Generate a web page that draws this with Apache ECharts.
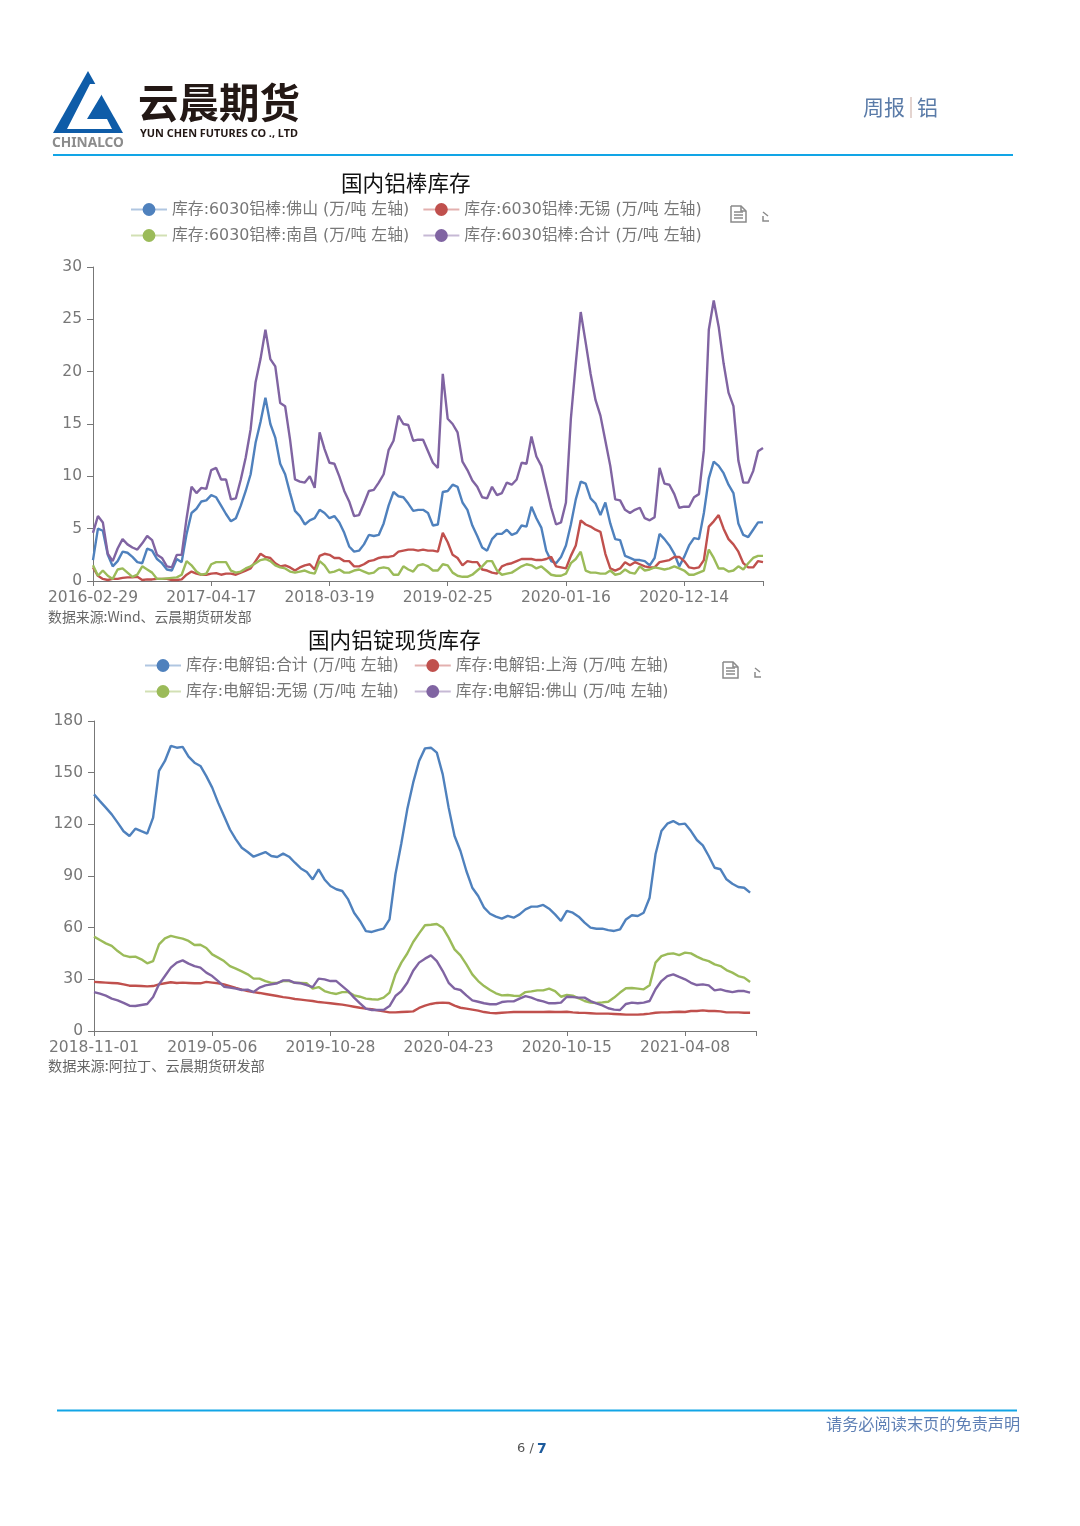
<!DOCTYPE html>
<html><head><meta charset="utf-8">
<style>html,body{margin:0;padding:0;background:#fff}#c{width:1080px;height:1526px}</style>
<script src="https://cdn.jsdelivr.net/npm/echarts@6/dist/echarts.min.js"></script>
</head><body><div id="c"></div>
<script>
const ticksA = ['2016-02-29','2017-04-17','2018-03-19','2019-02-25','2020-01-16','2020-12-14'];
const ticksB = ['2018-11-01','2019-05-06','2019-10-28','2020-04-23','2020-10-15','2021-04-08'];
const namesA = ['库存:6030铝棒:佛山 (万/吨 左轴)','库存:6030铝棒:无锡 (万/吨 左轴)','库存:6030铝棒:南昌 (万/吨 左轴)','库存:6030铝棒:合计 (万/吨 左轴)'];
const namesB = ['库存:电解铝:合计 (万/吨 左轴)','库存:电解铝:上海 (万/吨 左轴)','库存:电解铝:无锡 (万/吨 左轴)','库存:电解铝:佛山 (万/吨 左轴)'];

const foshanA = [2.0,5.0,4.8,2.5,1.4,1.9,2.8,2.7,2.3,1.8,
1.7,3.1,2.9,2.1,1.7,1.1,1.0,2.1,1.8,4.5,
6.5,6.9,7.6,7.7,8.2,8.0,7.2,6.4,5.7,6.0,
7.2,8.6,10.2,13.2,15.2,17.5,15.0,13.7,11.2,10.2,
8.4,6.7,6.2,5.4,5.8,6.0,6.8,6.5,6.0,6.2,
5.6,4.6,3.3,2.8,2.9,3.5,4.4,4.3,4.4,5.5,
7.2,8.5,8.1,8.0,7.4,6.7,6.8,6.8,6.5,5.3,
5.4,8.5,8.6,9.2,9.0,7.5,6.8,5.3,4.3,3.2,
2.9,4.0,4.5,4.5,4.9,4.4,4.6,5.3,5.2,7.1,
6.0,5.1,2.9,1.9,1.7,2.3,3.4,5.4,7.8,9.5,
9.3,7.9,7.4,6.3,7.5,5.5,4.0,3.9,2.4,2.2,
2.0,2.0,1.9,1.5,2.2,4.5,4.0,3.4,2.6,1.4,
2.3,3.4,4.1,4.0,6.5,9.8,11.4,11.0,10.3,9.2,
8.4,5.5,4.4,4.2,4.9,5.6,5.6];
const wuxiA = [1.3,.5,.2,.1,.2,.2,.3,.35,.35,.4,
.1,.15,.15,.2,.2,.2,.1,.1,.15,.6,
.9,.7,.6,.6,.7,.75,.6,.7,.7,.6,
.8,1,1.2,1.9,2.6,2.3,2.2,1.7,1.4,1.5,
1.3,1,1.3,1.5,1.6,1.1,2.4,2.6,2.5,2.2,
2.2,1.9,1.9,1.4,1.4,1.6,1.9,2,2.2,2.3,
2.3,2.4,2.8,2.9,3,3,2.9,3.0,2.9,2.9,
2.8,4.6,3.7,2.5,2.2,1.5,1.9,1.8,1.8,1.1,
1,.8,.7,1.4,1.6,1.7,1.9,2.1,2.1,2.1,
2,2,2.1,2.3,1.4,1.3,1.2,2.4,3.4,5.8,
5.4,5.2,4.9,4.7,2.6,1.2,1,1.2,1.8,1.5,
1.8,1.6,1.4,1.3,1.3,1.8,1.9,2,2.3,2.3,
1.9,1.3,1.2,1.3,2,5.2,5.7,6.3,5,4,
3.5,2.8,1.7,1.3,1.3,1.9,1.8];
const nanchangA = [1.5,.5,1,.5,.2,1.1,1.2,.8,.4,.6,
1.4,1.1,.8,.2,.2,.25,.3,.35,.6,1.9,
1.5,.9,.6,.7,1.6,1.8,1.8,1.8,1,.8,
.9,1.2,1.4,1.7,2,2.1,1.9,1.5,1.3,1.2,
.9,.8,.9,1,.8,.7,1.9,1.5,.8,.9,
1.1,.8,.8,1,1.1,.9,.7,.8,1.2,1.3,
1.2,.6,.6,1.4,1.1,.9,1.5,1.6,1.4,1.0,
1,1.6,1.5,.8,.5,.4,.4,.6,1,1.4,
1.9,1.9,1,.6,.7,.8,1.1,1.4,1.6,1.5,
1.2,1.4,1,.6,.5,.5,.7,1.7,2.1,2.8,
1,.8,.8,.7,.7,1,.6,.7,1.1,.8,
.7,1.4,1,1.1,1.3,1.2,1.1,1.2,1.4,1.2,
1,.6,.6,.8,1,3,2.2,1.2,1.2,.9,
1,1.4,1.1,1.7,2.2,2.4,2.4];
const totalA = [4.6,6.2,5.6,2.6,1.9,3.1,4,3.5,3.2,3,
3.6,4.3,3.9,2.5,2.2,1.4,1.3,2.5,2.5,6,
9,8.4,8.9,8.8,10.6,10.8,9.7,9.7,7.8,7.9,
9.7,11.8,14.5,19,21.2,24,21.2,20.5,17,16.7,
13.5,9.7,9.5,9.4,10,8.9,14.2,12.6,11.3,11.2,
10,8.6,7.6,6.2,6.3,7.4,8.6,8.7,9.4,10.2,
12.5,13.4,15.8,15,14.9,13.4,13.5,13.5,12.4,11.3,
10.8,19.8,15.5,15,14.2,11.4,10.6,9.6,9,8,
7.9,9,8.2,8.4,9.4,9.2,9.7,11.3,11.2,13.8,
11.9,11,9,7,5.4,5.6,7.5,15.5,20.8,25.7,
22.8,19.8,17.3,15.8,13.4,11,7.8,7.7,6.8,6.5,
6.8,7,6,5.8,6.1,10.8,9.3,9.2,8.3,7,
7.1,7.1,8,8.3,12.5,24,26.8,24.3,20.8,18,
16.7,11.5,9.4,9.4,10.5,12.4,12.7];

const totalB = [137.4,133.5,129.7,125.8,121,116,113.2,117.5,116,114.6,
123.9,151,156.8,165.5,164.5,165,159.3,155.8,153.9,148,
141.3,132.6,124.8,117,111.3,106.4,103.9,101.2,102.6,103.9,
101.6,101,103,101.2,97.7,94.4,92.3,88,93.9,88,
84.2,82.3,81.3,76.4,68.7,63.9,58,57.5,58.6,59.4,
64.8,91,109,128.7,144.2,156.8,164.1,164.5,161.6,149,
129.7,113.2,104.5,92.9,83.2,78.4,71.6,68.1,66.4,65.2,
66.8,65.8,67.7,70.6,72.2,72.2,73.2,71,67.7,63.9,
69.7,68.7,66.4,62.9,60,59.4,59.4,58.6,58.1,59,
64.8,67.2,66.8,68.7,77.4,102.6,116.1,120.4,121.9,120,
120.4,116.1,110.9,107.8,101.6,94.8,93.9,88.1,85.5,83.6,
83.2,80.3];
const shanghaiB = [28.5,28.3,28.1,27.9,27.7,27.1,26.3,26.3,26.1,25.9,
26.1,27.1,27.7,28.3,27.9,28.1,27.9,27.7,27.7,28.5,
28.1,27.7,27.1,26.1,25,24,23.2,22.6,22.1,21.5,
20.9,20.3,19.7,19.2,18.6,18.2,17.8,17.4,16.8,16.5,
16.1,15.7,15.3,14.7,14.1,13.5,13,12.6,12,11.4,
10.8,10.8,11,11.2,11.4,13.4,14.7,15.7,16.3,16.5,
16.3,14.7,13.5,13,12.4,11.8,11,10.5,10.3,10.6,
10.8,11,11,11,11,11,11,11.2,11,11,
11.2,10.8,10.6,10.5,10.3,10.1,10.1,10.1,9.9,9.7,
9.5,9.5,9.5,9.7,10.1,10.6,10.8,10.8,11,11.2,
11,11.6,11.6,12,11.6,11.6,11.4,10.8,10.8,10.8,
10.6,10.6];
const wuxiB = [54.8,52.8,50.9,49.4,46.4,43.9,43,43.2,41.6,39.3,
40.6,50.3,53.8,55.2,54.4,53.6,52.3,49.9,50.1,48.2,
44.5,42.6,40.6,37.7,36.2,34.6,32.9,30.4,30.4,29,
27.9,27.9,29,29,28,27.9,27.7,24.6,25.5,23.2,
22.1,21.5,22.6,22.6,20.7,19.9,18.8,18.4,18.2,19.4,
22.3,32.9,39.7,45,51.7,56.7,61.4,61.7,62.1,60,
54.2,47.4,43.9,38.7,32.9,29,26.1,23.8,21.9,20.7,
20.9,20.5,20.3,22.6,23,23.6,23.6,24.6,23.2,19.9,
20.9,20.5,19,17.4,16.5,16.3,16.6,17,19.4,22.3,
24.8,25,24.6,24.2,26.5,39.7,43.5,44.7,45.1,44.1,
45.5,45.1,43.2,41.6,40.6,38.7,37.7,35.4,33.9,31.9,
31,28.5];
const foshanB = [22.6,21.7,20.5,18.8,17.8,16.3,14.7,14.5,15.1,15.7,
19.7,27.1,31.9,36.8,39.7,41,39.1,37.7,36.8,33.9,
31.9,29,25.7,25.2,24.6,23.8,24,22.6,25.2,26.5,
27.1,27.7,29.4,29.4,28,27.7,26.7,25.5,30.4,30,
29,29,26.1,23.2,19.4,16.1,13,12.2,12.2,12.2,
14.5,20.3,23.2,28,35,39.7,42,43.9,40.6,34.8,
28,24.6,23.8,20.7,17.8,17,16.1,15.5,15.5,16.8,
17.2,17.2,18.8,20.3,19.4,18,17.2,16.1,16.1,16.5,
19.9,19.7,19.4,19.4,17.4,16.1,14.9,13.2,12.4,12.2,
15.7,16.5,16.1,16.5,17.4,24.2,29,31.9,32.9,31.4,
30,28,26.7,27.1,26.5,23.6,24.2,23.2,22.6,23.2,
23.2,22.3];

const colors = ['#4f81bd','#c0504d','#9bbb59','#8064a2'];
const gapA = 24, countA = 137, gapB = 20, countB = 113;
const catA = Array.from({length:countA},(_,i)=> i%gapA===0 ? ticksA[i/gapA] : '');
const catB = Array.from({length:countB},(_,i)=> i%gapB===0 ? ticksB[i/gapB] : '');
const axisCol = '#777', labelCol = '#777';
const labelFont = 'DejaVu Sans', cjk = 'Noto Sans CJK SC';
const legendFont = '"DejaVu Sans","Noto Sans CJK SC"';

function xAx(idx,cat,gap){
  const last = cat.length-1;
  return {type:'category',gridIndex:idx,data:cat,boundaryGap:false,
    axisLine:{onZero:false,lineStyle:{color:axisCol,width:1}},
    axisTick:{show:true,length:5,lineStyle:{color:axisCol},interval:(i)=>i%gap===0||i===last},
    axisLabel:{color:labelCol,fontFamily:labelFont,fontSize:15.5,margin:9,hideOverlap:false,interval:(i)=>i%gap===0},
    splitLine:{show:false}};
}
function yAx(idx,max,step){
  return {type:'value',gridIndex:idx,min:0,max:max,interval:step,
    axisLine:{show:true,lineStyle:{color:axisCol,width:1}},
    axisTick:{show:true,length:6,lineStyle:{color:axisCol}},
    axisLabel:{color:labelCol,fontFamily:labelFont,fontSize:15.5,margin:11},
    splitLine:{show:false}};
}
function ser(name,data,idx,col,w){
  return {type:'line',name:name,data:data,xAxisIndex:idx,yAxisIndex:idx,symbol:'circle',showSymbol:false,
    smooth:false,color:col,lineStyle:{color:col,width:w},itemStyle:{color:col},silent:true};
}
function leg(names,left,top,width,gap,size,tail){
  return {show:true,data:names,left:left,top:top,width:width,orient:'horizontal',padding:0,
    itemWidth:36,itemHeight:16,itemGap:gap,
    formatter:(n)=>n+tail,
    lineStyle:{width:2,opacity:.45},selectedMode:false,
    textStyle:{color:'#777',fontFamily:legendFont,fontSize:size,lineHeight:16}};
}
function txt(x,y,t,size,col,extra){
  return {type:'text',x:x,y:y,silent:true,style:Object.assign({text:t,fontFamily:cjk,fontSize:size,fill:col,textVerticalAlign:'middle',verticalAlign:'middle'},extra||{})};
}
function line(x1,x2,y){
  return {type:'line',silent:true,shape:{x1:x1,y1:y,x2:x2,y2:y},style:{stroke:'#12a5e6',lineWidth:2}};
}
function icons(dx,dy){
  const s = {fill:'none',stroke:'#8a8a8a',lineWidth:1.5};
  return [
    {type:'polyline',silent:true,x:dx,y:dy,shape:{points:[[731,206],[741,206],[746,211],[746,222],[731,222],[731,206]]},style:s},
    {type:'polyline',silent:true,x:dx,y:dy,shape:{points:[[741,206],[741,211],[746,211]]},style:s},
    {type:'line',silent:true,x:dx,y:dy,shape:{x1:734,y1:212,x2:743,y2:212},style:s},
    {type:'line',silent:true,x:dx,y:dy,shape:{x1:734,y1:215,x2:743,y2:215},style:s},
    {type:'line',silent:true,x:dx,y:dy,shape:{x1:734,y1:218,x2:743,y2:218},style:s},
    {type:'polyline',silent:true,x:dx,y:dy,shape:{points:[[763,212],[768,216]]},style:s},
    {type:'polyline',silent:true,x:dx,y:dy,shape:{points:[[763,216],[763,221],[769,221]]},style:s}
  ];
}
const chart = echarts.init(document.getElementById('c'),null,{renderer:'canvas'});
chart.setOption({
  animation:false,backgroundColor:'#fff',
  title:[
    {text:'国内铝棒库存',left:341,top:172,padding:0,textStyle:{fontFamily:cjk,fontWeight:'normal',fontSize:21.6,color:'#111'}},
    {text:'国内铝锭现货库存',left:308,top:629,padding:0,textStyle:{fontFamily:cjk,fontWeight:'normal',fontSize:21.6,color:'#111'}}
  ],
  legend:[leg(namesA,130,201.5,620,10,15.85,'\u2009'),leg(namesB,144,657.5,570,10,15.85,'\u00a0')],
  grid:[
    {left:93,top:267,width:670,height:314,containLabel:false},
    {left:94,top:721,width:662,height:310,containLabel:false}
  ],
  xAxis:[xAx(0,catA,gapA),xAx(1,catB,gapB)],
  yAxis:[yAx(0,30,5),yAx(1,180,30)],
  series:[
    ser(namesA[0],foshanA,0,colors[0],2.4),
    ser(namesA[1],wuxiA,0,colors[1],2.4),
    ser(namesA[2],nanchangA,0,colors[2],2.4),
    ser(namesA[3],totalA,0,colors[3],2.4),
    ser(namesB[0],totalB,1,colors[0],2.4),
    ser(namesB[1],shanghaiB,1,colors[1],2.4),
    ser(namesB[2],wuxiB,1,colors[2],2.4),
    ser(namesB[3],foshanB,1,colors[3],2.4)
  ],
  graphic:{elements:[
    {type:'polygon',silent:true,shape:{points:[[88,71],[53,133],[123,133]]},style:{fill:'#0e5ca8'}},
    {type:'polygon',silent:true,shape:{points:[[108,84],[90,84],[67,129],[112,129],[107,119],[87,119]]},style:{fill:'#fff'}},
    txt(52,143.5,'CHINALCO',13.7,'#8c8c8c',{fontFamily:'Noto Sans',fontWeight:'bold'}),
    txt(138,103,'云晨期货',40.5,'#231815',{fontWeight:'bold'}),
    txt(140,134,'YUN CHEN FUTURES CO ., LTD',10.9,'#231815',{fontFamily:'Noto Sans',fontWeight:'bold'}),
    txt(863,107,'周报',21,'#5a7ba8'),
    {type:'line',silent:true,shape:{x1:911,y1:97,x2:911,y2:118},style:{stroke:'#c9a9a0',lineWidth:1}},
    txt(917,107,'铝',21,'#5a7ba8'),
    line(53,1013,155),
    line(57,1017,1410.5),
    txt(48,617,'数据来源:Wind、云晨期货研发部',13.9,'#666'),
    txt(48,1066,'数据来源:阿拉丁、云晨期货研发部',14.2,'#666'),
    txt(826,1424,'请务必阅读末页的免责声明',16.2,'#5f80b5'),
    txt(517,1449,'6 /',13,'#555',{fontFamily:'DejaVu Sans'}),
    txt(537,1449,'7',14,'#1c5a9c',{fontFamily:'DejaVu Sans',fontWeight:'bold'}),
    ...icons(0,0),
    ...icons(-8,456)
  ]}
});
</script></body></html>
